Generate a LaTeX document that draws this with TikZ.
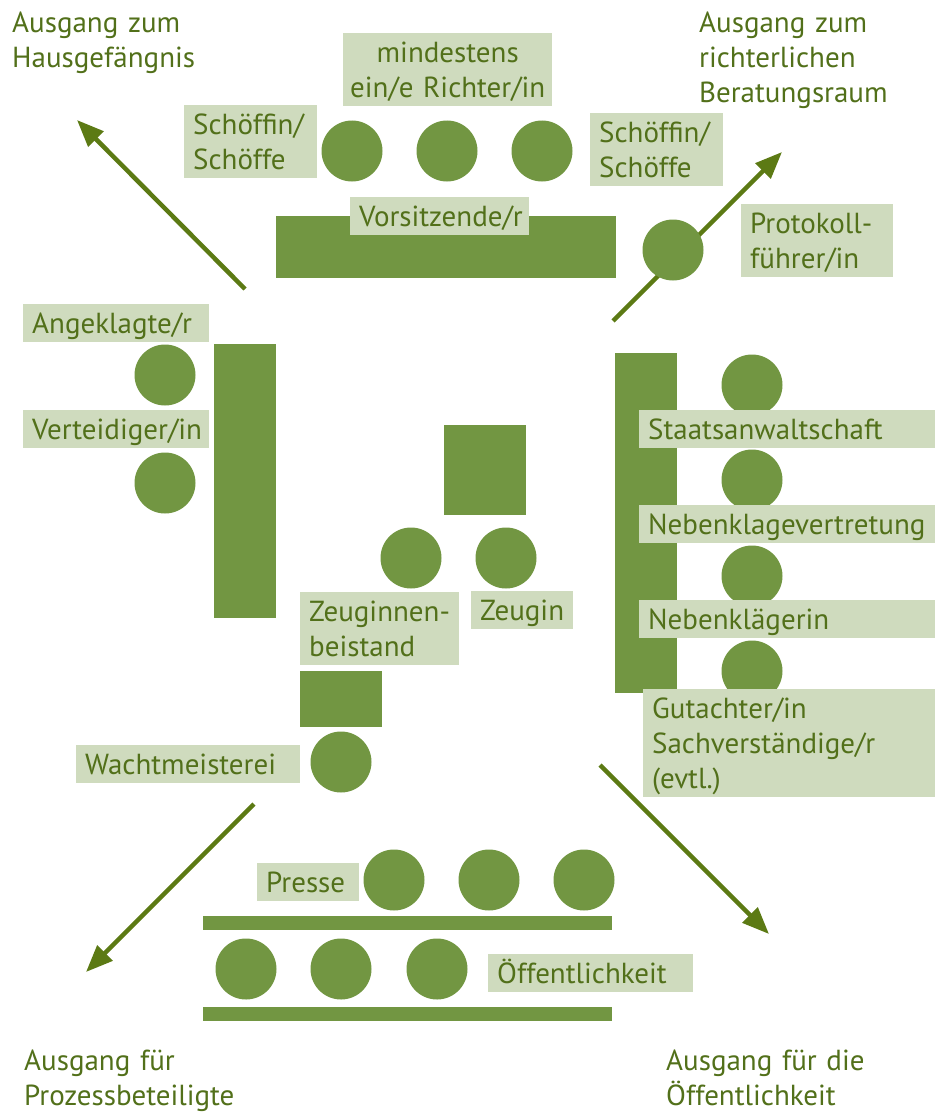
\documentclass[tikz,border=0pt]{standalone}
\usepackage{fontspec}
\setmainfont{PT Sans}
\usepackage{tikz}
\usetikzlibrary{arrows.meta}
\definecolor{deskgreen}{RGB}{114,150,66}
\definecolor{tagbg}{RGB}{207,219,190}
\definecolor{ink}{RGB}{82,112,26}
\definecolor{exitgreen}{RGB}{92,122,20}

\begin{document}
\begin{tikzpicture}[x=1pt,y=-1pt,
  person/.style={circle,fill=deskgreen,minimum size=61pt,inner sep=0pt},
  desk/.style={fill=deskgreen,inner sep=0pt},
  txt/.style={text=ink,font=\fontsize{29}{35}\selectfont,inner ysep=0pt,anchor=north west,align=left,
    execute at begin node=\rule{0pt}{29pt},execute at end node=\rule[-9pt]{0pt}{9pt}},
  tag/.style={txt,fill=tagbg,inner xsep=9pt},
  exit/.style={txt,inner xsep=0pt,text width=260pt},
  arr/.style={-{Triangle[length=27pt,width=21pt]},draw=exitgreen,line width=4.5pt}
]
\useasboundingbox (0,0) rectangle (935,1113);

\coordinate (hausStart) at (245,289);
\coordinate (hausTip) at (77,120);
\coordinate (beratStart) at (613,321);
\coordinate (beratTip) at (782,152);
\coordinate (prozessStart) at (254,804);
\coordinate (prozessTip) at (86,972);
\coordinate (publikStart) at (600,765);
\coordinate (publikTip) at (769,934);
\draw[arr] (hausStart) -- (hausTip);
\draw[arr] (beratStart) -- (beratTip);
\draw[arr] (prozessStart) -- (prozessTip);
\draw[arr] (publikStart) -- (publikTip);

\node[desk,minimum width=340pt,minimum height=62pt] (vorsitzTisch) at (446,247) {};
\node[desk,minimum width=62pt,minimum height=274pt] (tischLinks) at (245,481) {};
\node[desk,minimum width=82pt,minimum height=90pt] (zeugenTisch) at (485,470) {};
\node[desk,minimum width=82pt,minimum height=56pt] (wachtTisch) at (341,699) {};
\node[desk,minimum width=62pt,minimum height=340pt] (tischRechts) at (646,523) {};
\node[desk,minimum width=409pt,minimum height=14pt] (presseBank) at (407.5,923) {};
\node[desk,minimum width=409pt,minimum height=14pt] (publikBank) at (407.5,1014) {};

\node[person] (schoeffeL) at (352,151) {};
\node[person] (richter) at (447,151) {};
\node[person] (schoeffeR) at (542,151) {};
\node[person] (protokoll) at (673,250) {};
\node[person] (angeklagt) at (165,375) {};
\node[person] (verteid) at (165,483) {};
\node[person] (beistand) at (411,558) {};
\node[person] (zeugin) at (506,558) {};
\node[person] (wacht) at (341,762) {};
\node[person] (staats) at (752,385) {};
\node[person] (vertret) at (752,480) {};
\node[person] (klaegerin) at (752,576) {};
\node[person] (gutacht) at (752,671) {};
\node[person] (presse1) at (394,880) {};
\node[person] (presse2) at (489,880) {};
\node[person] (presse3) at (584,880) {};
\node[person] (publik1) at (246,969) {};
\node[person] (publik2) at (341,969) {};
\node[person] (publik3) at (437,969) {};

\node[tag,inner xsep=3pt,text width=203pt,align=center] (richterTag) at (343,33) {mindestens\\ein/e Richter/in};
\node[tag,text width=115pt] (schoeffeLTag) at (184,105) {Schöffin/\\Schöffe};
\node[tag,text width=115pt] (schoeffeRTag) at (590,113) {Schöffin/\\Schöffe};
\node[tag,text width=161pt] (vorsitzTag) at (350,197) {Vorsitzende/r};
\node[tag,text width=134pt] (protokollTag) at (741,204) {Protokoll-\\führer/in};
\node[tag,text width=168pt] (angeklagtTag) at (23,304) {Angeklagte/r};
\node[tag,text width=168pt] (verteidTag) at (23,410) {Verteidiger/in};
\node[tag,text width=84pt] (zeuginTag) at (471,591) {Zeugin};
\node[tag,text width=141pt] (beistandTag) at (300,592) {Zeuginnen-\\beistand};
\node[tag,text width=206pt] (wachtTag) at (76,745) {Wachtmeisterei};
\node[tag,text width=278pt] (staatsTag) at (639,410) {Staatsanwaltschaft};
\node[tag,text width=278pt] (vertretTag) at (639,505) {Nebenklagevertretung};
\node[tag,text width=278pt] (klaegerinTag) at (639,600) {Nebenklägerin};
\node[tag,text width=274pt] (gutachtTag) at (643,689) {Gutachter/in\\Sachverständige/r\\(evtl.)};
\node[tag,text width=84pt] (presseTag) at (257,863) {Presse};
\node[tag,text width=187pt] (publikTag) at (488,954) {Öffentlichkeit};

\node[exit] (exitHaus) at (12,3) {Ausgang zum\\Hausgefängnis};
\node[exit] (exitBerat) at (699,3) {Ausgang zum\\richterlichen\\Beratungsraum};
\node[exit] (exitProzess) at (24,1041) {Ausgang für\\Prozessbeteiligte};
\node[exit] (exitPublik) at (666,1041) {Ausgang für die\\Öffentlichkeit};
\end{tikzpicture}
\end{document}
